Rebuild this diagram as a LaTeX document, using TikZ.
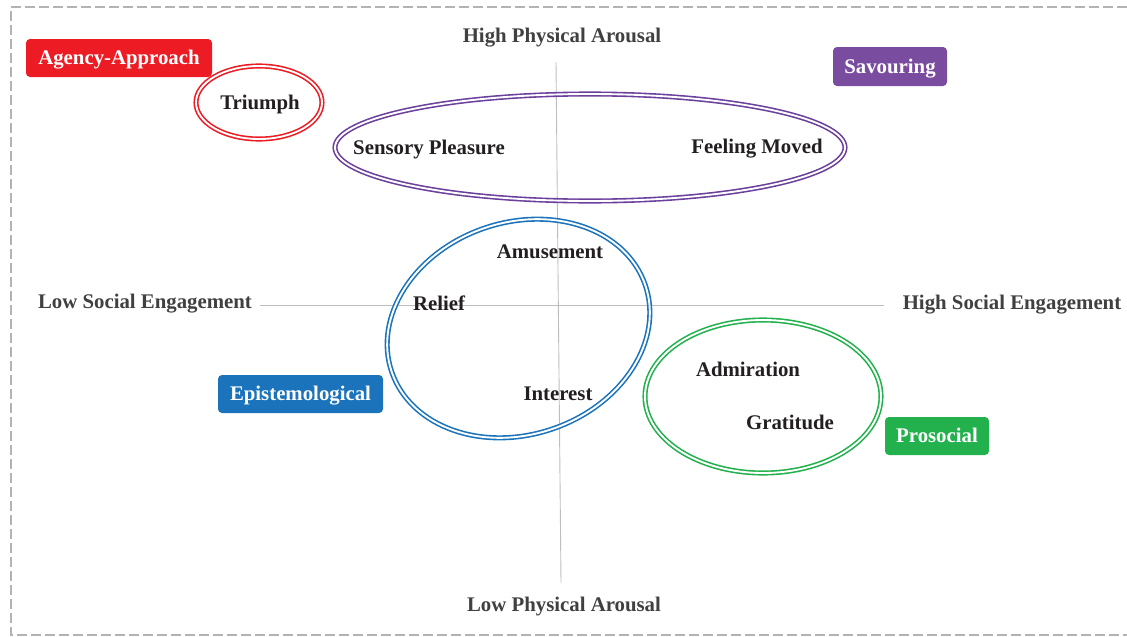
\documentclass[tikz,border=0pt]{standalone}
\usepackage{fontspec}
\setmainfont{Liberation Serif}
\usetikzlibrary{shapes.geometric}
\definecolor{cred}{HTML}{ED1C24}
\definecolor{cpurple}{HTML}{7A4C9F}
\definecolor{cpurpleline}{HTML}{6B3F9C}
\definecolor{cblue}{HTML}{1B74BB}
\definecolor{cgreen}{HTML}{22B14C}
\definecolor{ctext}{HTML}{231F20}
\definecolor{caxis}{HTML}{404040}
\definecolor{cborder}{HTML}{B3B3B3}
\definecolor{cline}{HTML}{BDBDBD}
\tikzset{
  lbl/.style={font=\fontsize{20.8}{24}\selectfont\bfseries, text=ctext, inner sep=0pt, text height=13.8pt, text depth=0pt},
  axislbl/.style={font=\fontsize{20.8}{24}\selectfont\bfseries, text=caxis, inner sep=0pt, text height=13.8pt, text depth=0pt},
  tagbox/.style={font=\fontsize{20.8}{24}\selectfont\bfseries, text=white, rounded corners=4pt, inner sep=0pt, text height=13.8pt, text depth=0pt, minimum height=38pt},
  ring/.style={ellipse, draw=#1, line width=1.6pt, double=white, double distance=1.9pt, inner sep=0pt, outer sep=0pt},
  axisline/.style={draw=cline, line width=0.9pt}
}
\begin{document}
\begin{tikzpicture}[x=1pt,y=-1pt]
\useasboundingbox (0,0) rectangle (1127,637);
% dashed frame
\draw[cborder, line width=2.6pt, dash pattern=on 10pt off 4pt] (1127,7) -- (11,7) -- (11,635) -- (1127,635);

% axes
\coordinate (vtop) at (556,62);
\coordinate (vbot) at (561,583);
\coordinate (hl) at (260,305.5);
\coordinate (hr) at (884,305.5);
\draw[axisline] (vtop) -- (vbot);
\draw[axisline] (hl) -- (hr);

% axis labels
\node[axislbl] (hpa) at (562,35.5) {High Physical Arousal};
\node[axislbl] (lpa) at (564,605) {Low Physical Arousal};
\node[axislbl] (lse) at (145,302) {Low Social Engagement};
\node[axislbl] (hse) at (1012,303) {High Social Engagement};

% ellipses
\node[ring=cred, minimum width=126pt, minimum height=73pt] (etri) at (259,102.5) {};
\node[ring=cpurpleline, minimum width=510pt, minimum height=107pt] (esav) at (590,147.5) {};
\node[ring=cblue, minimum width=268pt, minimum height=212pt, rotate=19] (eepi) at (518.5,328.5) {};
\node[ring=cgreen, minimum width=236pt, minimum height=153pt] (epro) at (763,396.5) {};

% emotion labels
\node[lbl] (triumph) at (260,103) {Triumph};
\node[lbl] (sensory) at (429,148) {Sensory Pleasure};
\node[lbl] (moved) at (757,147) {Feeling Moved};
\node[lbl] (amuse) at (550,252) {Amusement};
\node[lbl] (relief) at (439,304) {Relief};
\node[lbl] (interest) at (558,394) {Interest};
\node[lbl] (admir) at (748,370) {Admiration};
\node[lbl] (grat) at (790,423) {Gratitude};

% category tags
\node[tagbox, fill=cred, minimum width=186pt] (tagaa) at (119,58) {Agency-Approach};
\node[tagbox, fill=cpurple, minimum width=114pt, minimum height=39pt] (tagsav) at (890,66.5) {Savouring};
\node[tagbox, fill=cblue, minimum width=165pt] (tagepi) at (300.5,394) {Epistemological};
\node[tagbox, fill=cgreen, minimum width=104pt] (tagpro) at (937,436) {Prosocial};
\end{tikzpicture}
\end{document}
